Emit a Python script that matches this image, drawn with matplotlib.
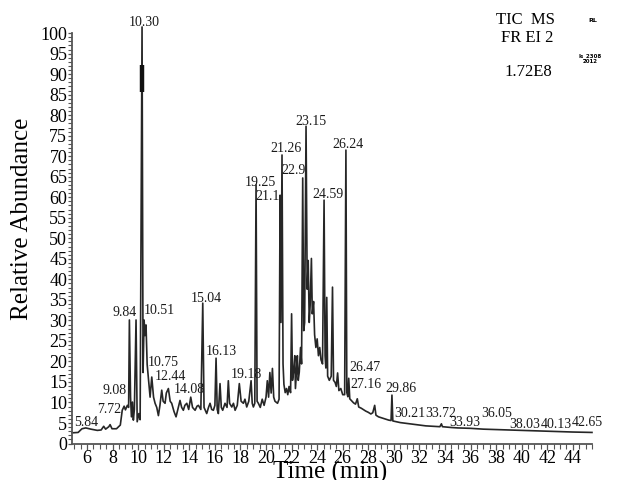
import matplotlib
matplotlib.use("Agg")
import matplotlib.pyplot as plt
from matplotlib.ticker import MultipleLocator

plt.rcParams['font.family'] = ['Liberation Serif', 'DejaVu Serif']

# chromatogram trace (time in min, relative abundance)
time_min = [4.82, 5.3, 5.6, 5.9, 6.3, 6.8, 7.1, 7.3, 7.45, 7.7, 7.8, 7.95, 8.3, 8.6,
            8.75, 8.9, 9.0, 9.15, 9.25, 9.31, 9.4, 9.47, 9.55, 9.62, 9.7, 9.83, 9.92,
            10.05, 10.15, 10.30, 10.38, 10.46, 10.53, 10.61, 10.7, 10.79, 10.93, 11.06,
            11.2, 11.32, 11.45, 11.58, 11.7, 11.84, 11.95, 12.1, 12.2, 12.36, 12.5, 12.62,
            12.8, 12.96, 13.1, 13.27, 13.4, 13.53, 13.65, 13.8, 13.95, 14.11, 14.25, 14.45,
            14.6, 14.71, 14.9, 15.05, 15.15, 15.36, 15.5, 15.62, 15.75, 15.88, 16.0, 16.09,
            16.18, 16.27, 16.40, 16.5, 16.61, 16.79, 16.95, 17.05, 17.15, 17.32, 17.45,
            17.58, 17.75, 17.91, 18.05, 18.23, 18.35, 18.49, 18.65, 18.83, 18.92, 19.01,
            19.12, 19.22, 19.3, 19.40, 19.55, 19.7, 19.85, 20.0, 20.1, 20.2, 20.3, 20.4,
            20.5, 20.6, 20.7, 20.9, 21.02, 21.1, 21.17, 21.25, 21.33, 21.4, 21.5, 21.6,
            21.7, 21.8, 21.92, 22.0, 22.07, 22.15, 22.25, 22.3, 22.4, 22.45, 22.52, 22.6,
            22.7, 22.78, 22.87, 22.95, 23.02, 23.13, 23.22, 23.3, 23.38, 23.45, 23.55,
            23.62, 23.72, 23.8, 23.9, 24.0, 24.1, 24.2, 24.3, 24.42, 24.54, 24.62, 24.68,
            24.75, 24.82, 24.95, 25.1, 25.2, 25.28, 25.4, 25.5, 25.6, 25.7, 25.85, 26.0,
            26.15, 26.25, 26.32, 26.4, 26.47, 26.55, 26.7, 26.85, 27.0, 27.14, 27.25,
            27.45, 27.6, 27.8, 28.0, 28.2, 28.35, 28.5, 28.6, 28.8, 29.0, 29.3, 29.6,
            29.78, 29.85, 29.92, 30.2, 30.5, 31.0, 31.5, 32.0, 32.5, 33.0, 33.6, 33.72,
            33.8, 34.5, 35.0, 36.0, 37.0, 38.0, 39.0, 40.0, 41.0, 42.0, 43.0, 44.0, 45.5]
abundance = [2.6, 2.7, 3.6, 3.8, 3.5, 3.2, 3.3, 4.2, 3.5, 4.1, 4.6, 3.6, 3.6, 4.5,
             8.1, 9.1, 8.2, 9.3, 8.8, 30.1, 11.3, 6.5, 10.1, 5.7, 8.3, 30.1, 5.3,
             7.3, 5.8, 101.5, 17.3, 30.1, 26.3, 28.9, 19.3, 16.2, 11.3, 16.2,
             11.3, 9.8, 8.8, 6.8, 9.3, 13.0, 10.3, 9.8, 12.3, 13.4, 10.3, 9.8,
             7.8, 6.5, 8.3, 10.5, 8.8, 8.1, 9.3, 9.8, 8.3, 11.3, 8.8, 8.1,
             9.1, 9.3, 8.3, 34.2, 8.8, 7.3, 8.8, 9.8, 8.3, 8.1, 9.3, 20.8,
             8.3, 7.3, 14.6, 8.8, 8.1, 9.8, 8.8, 15.3, 9.8, 8.9, 9.8,
             8.1, 9.3, 14.6, 10.3, 9.8, 10.8, 8.9, 10.3, 15.3, 9.8, 8.9,
             9.8, 63.0, 10.3, 9.8, 8.8, 10.8, 9.3, 11.3, 15.3, 11.3, 17.3, 12.3,
             18.3, 11.3, 10.3, 9.8, 10.8, 60.5, 29.5, 70.3, 19.4, 14.4, 12.4, 13.4,
             11.9, 13.9, 12.4, 31.6, 15.4, 17.4, 21.4, 13.4, 18.4, 21.4, 15.4, 17.4,
             23.4, 19.4, 64.7, 27.5, 29.5, 77.3, 37.6, 44.6, 29.5, 33.6, 45.1,
             31.6, 34.6, 26.5, 23.4, 25.5, 21.4, 23.4, 20.4, 19.4, 59.3, 21.4, 18.4,
             35.6, 16.4, 15.4, 16.4, 38.1, 15.4, 14.9, 13.9, 17.2, 12.9, 13.4, 11.9,
             11.9, 71.5, 12.4, 11.4, 15.9, 10.9, 10.4, 9.9, 9.6, 10.9, 8.9,
             8.6, 8.3, 7.9, 7.6, 7.2, 7.5, 9.3, 6.9, 6.5, 6.3, 6.0, 5.7,
             5.6, 11.8, 5.5, 5.3, 5.1, 4.9, 4.7, 4.5, 4.3, 4.2, 4.1, 4.8,
             4.1, 3.9, 3.8, 3.7, 3.5, 3.4, 3.3, 3.2, 3.1, 3.0, 2.9, 2.8, 2.7]

# dark blotch drawn on the 10.30 peak in the original print
blotch_time = 10.30
blotch_range = [85.6, 92.2]

# peak labels and where they sit
peak_labels = ["10.30", "21.26", "22.9", "19.25", "21.1", "23.15", "26.24", "24.59",
               "15.04", "9.84", "10.51", "10.75", "12.44", "14.08", "16.13", "19.18",
               "9.08", "7.72", "5.84", "26.47", "27.16", "29.86", "30.21", "33.72",
               "33.93", "36.05", "38.03", "40.13", "42.65"]
label_x = [10.50, 21.53, 22.15, 19.53, 20.12, 23.52, 26.38, 24.85,
           15.31, 8.93, 11.63, 11.94, 12.53, 13.98, 16.48, 18.44,
           8.15, 7.76, 5.90, 27.75, 27.79, 30.57, 31.27, 33.70,
           35.57, 38.08, 40.27, 42.69, 45.12]
label_y = [102.6, 71.8, 66.5, 63.7, 60.1, 78.4, 72.8, 60.6,
           35.4, 32.0, 32.3, 19.7, 16.3, 13.2, 22.4, 16.8,
           12.9, 8.4, 5.2, 18.6, 14.5, 13.5, 7.2, 7.4,
           5.2, 7.4, 4.7, 4.7, 5.2]

fig = plt.figure(figsize=(6.18, 4.80), dpi=100)
ax = fig.add_axes([0.1165, 0.076, 0.8414, 0.855])

ax.plot(time_min, abundance, color="#262626", linewidth=1.2, clip_on=False)
ax.vlines(blotch_time, blotch_range[0], blotch_range[1], color="#111111", linewidth=3.2)

for lab, lx, ly in zip(peak_labels, label_x, label_y):
    ax.text(lx, ly, lab, fontsize=10, color="#1a1a1a", ha='center', va='center')

ax.set_xlim(4.82, 45.5)
ax.set_ylim(0, 100)

for s in ['top', 'right']:
    ax.spines[s].set_visible(False)
for s in ['left', 'bottom']:
    ax.spines[s].set_color("#555555")
    ax.spines[s].set_linewidth(1.3)

ax.yaxis.set_major_locator(MultipleLocator(5))
ax.yaxis.set_minor_locator(MultipleLocator(1))
ax.xaxis.set_minor_locator(MultipleLocator(0.5))
ax.set_xticks(range(6, 45, 2))

ax.tick_params(axis='y', which='major', direction='out', length=3, width=0.9,
               color="#555555", labelsize=13, pad=0.5)
ax.tick_params(axis='y', which='minor', direction='out', length=2.6, width=0.8,
               color="#555555")
ax.tick_params(axis='x', which='major', direction='out', length=4, width=0.9,
               color="#555555", labelsize=13, pad=0.5)
ax.tick_params(axis='x', which='minor', direction='out', length=3.5, width=0.8,
               color="#555555")

fig.text(22 / 618, 1 - 219 / 480, "Relative Abundance", rotation=90,
         fontsize=18, ha='center', va='center')
fig.text(330 / 618, 1 / 480, "Time (min)", fontsize=18, ha='center', va='baseline')

fig.text(525 / 618, 1 - 20 / 480, "TIC  MS", fontsize=12, ha='center', va='center')
fig.text(527 / 618, 1 - 38 / 480, "FR EI 2", fontsize=12, ha='center', va='center')
fig.text(528 / 618, 1 - 72 / 480, "1.72E8", fontsize=12, ha='center', va='center')
fig.text(593 / 618, 1 - 20 / 480, "RL", fontsize=4.5, fontweight='bold',
         family='DejaVu Sans', ha='center', va='center')
fig.text(590 / 618, 1 - 59 / 480, "ls_2308\n2012", fontsize=4, fontweight='bold',
         family='DejaVu Sans', ha='center', va='center', linespacing=1.0)

fig.savefig("out.png", dpi=100)
